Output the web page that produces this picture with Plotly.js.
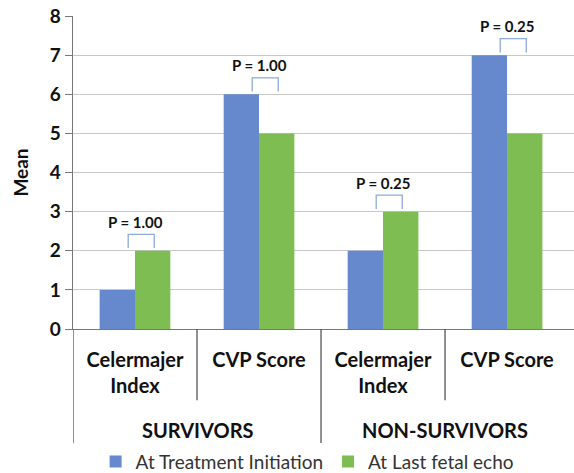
<!DOCTYPE html>
<html><head><meta charset="utf-8">
<script src="https://cdn.plot.ly/plotly-3.0.1.min.js"></script>
<style>body{margin:0;background:#fff}#c{width:574px;height:473px}</style>
</head><body><div id="c"></div>
<script>
const groups = ["SURVIVORS","NON-SURVIVORS"];
const groupOf = [0,0,1,1];
const measures = ["Celermajer<br>Index","CVP Score","Celermajer<br>Index","CVP Score"];
const atTreatment = [1,6,2,7];
const atLastEcho = [2,5,3,5];
const pValues = ["P = 1.00","P = 1.00","P = 0.25","P = 0.25"];
const seriesNames = ["At Treatment Initiation","At Last fetal echo"];

const FONT = "Lato, 'Open Sans', sans-serif";
const blue = "#6589cc", green = "#7dbd52", brk = "#8ea9db";
const idx = measures.map((_, i) => i);

const traces = [
  {type:"bar", name:seriesNames[0], x:idx, y:atTreatment, marker:{color:blue}},
  {type:"bar", name:seriesNames[1], x:idx, y:atLastEcho, marker:{color:green}}
];

const n = measures.length;
const shapes = [], annotations = [];
for (let i=0;i<n;i++){
  const top = Math.max(atTreatment[i], atLastEcho[i]);
  const xl = i - 0.055, xr = i + 0.155;
  const y0 = top + 0.07, y1 = top + 0.42;
  shapes.push({type:"path", xref:"x", yref:"y",
    path:`M ${xl} ${y0} L ${xl} ${y1} L ${xr} ${y1} L ${xr} ${y0}`,
    line:{color:brk, width:1.3}});
  annotations.push({xref:"x", yref:"y", x:i, y:y1+0.04, yanchor:"bottom", showarrow:false,
    text:"<b>"+pValues[i]+"</b>", font:{family:FONT, size:15, color:"#111"}});
}
// dividers: short between sub-categories, long between groups
for (let k=0;k<n;k++){
  const isGroupEdge = (k===0 || groupOf[k]!==groupOf[k-1]);
  shapes.push({type:"line", xref:"x", yref:"paper", x0:k-0.5, x1:k-0.5, y0:0,
    y1: isGroupEdge ? -0.365 : -0.228, line:{color:"#555", width:1.3}});
}
groups.forEach((g, gi) => {
  const members = idx.filter(i => groupOf[i]===gi);
  const xc = (members[0] + members[members.length-1]) / 2;
  annotations.push({xref:"x", yref:"paper", x:xc, y:-0.323, yanchor:"middle", showarrow:false,
    text:"<b>"+g+"</b>", font:{family:FONT, size:20, color:"#111"}});
});

const layout = {
  width:574, height:473,
  margin:{l:73, r:0, t:16, b:144},
  paper_bgcolor:"#fff", plot_bgcolor:"#fff",
  barmode:"group", bargap:0.43, bargroupgap:0,
  font:{family:FONT, color:"#111"},
  xaxis:{range:[-0.5, n-0.5+0.04], tickvals:idx, ticktext:measures, showline:true, linecolor:"#777", linewidth:1.3,
    showgrid:false, zeroline:false, ticks:"", ticklabelstandoff:13,
    tickfont:{family:FONT, size:20, color:"#111", weight:"bold"}},
  yaxis:{range:[0,8], dtick:1, showline:true, linecolor:"#777", linewidth:1.3,
    ticks:"outside", ticklen:7, tickcolor:"#777", gridcolor:"#c8c8c8", gridwidth:1,
    zeroline:false, tickfont:{family:FONT, size:19, color:"#111", weight:"bold"},
    title:{text:"<b>Mean</b>", font:{family:FONT, size:19, color:"#111"}, standoff:16}},
  legend:{orientation:"h", xref:"container", x:0.535, xanchor:"center", yref:"container", y:0.024, yanchor:"middle",
    font:{family:FONT, size:19, color:"#333"}, itemwidth:30, tracegroupgap:0},
  showlegend:true,
  shapes:shapes, annotations:annotations
};
Plotly.newPlot("c", traces, layout, {displayModeBar:false, staticPlot:true});
</script></body></html>
